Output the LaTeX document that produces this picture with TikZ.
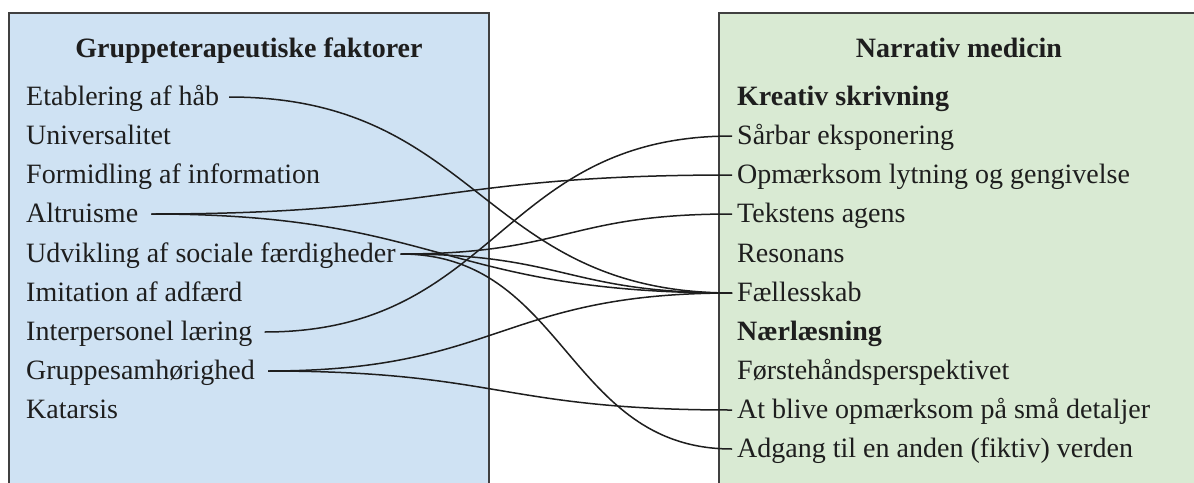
\documentclass[tikz,border=0pt]{standalone}
\usepackage{fontspec}
\setmainfont{Liberation Serif}
\usetikzlibrary{calc}
\definecolor{leftfill}{HTML}{CFE2F3}
\definecolor{rightfill}{HTML}{D9EAD3}
\definecolor{ink}{HTML}{1E1E1E}
\newcommand\linkpair[2]{%
  \draw[conn] let \p1=(#1.east), \p2=(#2.west) in
    (\p1) .. controls ({(\x1+\x2)/2},\y1) and ({(\x1+\x2)/2},\y2) .. (\p2);}
\begin{document}
\begin{tikzpicture}[x=1pt,y=-1pt,
  every node/.style={font=\fontsize{28}{34}\selectfont, text=ink},
  panel/.style={draw=ink!85, line width=1.1pt},
  heading/.style={font=\fontsize{28}{34}\selectfont\bfseries, anchor=base, inner sep=0pt},
  litem/.style={anchor=base west, inner ysep=0pt, inner xsep=0pt, text height=19pt, text depth=3pt},
  ritem/.style={anchor=base west, inner ysep=0pt, inner xsep=5pt, text height=19pt, text depth=3pt},
  subhead/.style={ritem, font=\fontsize{28}{34}\selectfont\bfseries},
  conn/.style={draw=ink, line width=1.5pt}]
\clip (0,0) rectangle (1194,482);
\fill[white] (0,0) rectangle (1194,482);
% panels
\filldraw[panel, fill=leftfill] (9,13) rectangle (489,520);
\filldraw[panel, fill=rightfill] (719,13) rectangle (1199,520);
% headings
\node[heading] (lt) at (249,57) {Gruppeterapeutiske faktorer};
\node[heading] (rt) at (959,57) {Narrativ medicin};
% left items
\node[litem] (l1) at (26,105) {Etablering af håb\kern10pt};
\node[litem] (l2) at (26,144) {Universalitet};
\node[litem] (l3) at (26,183) {Formidling af information};
\node[litem] (l4) at (26,222) {Altruisme\kern13pt};
\node[litem] (l5) at (26,262) {Udvikling af sociale færdigheder\kern5pt};
\node[litem] (l6) at (26,301) {Imitation af adfærd};
\node[litem] (l7) at (26,340) {Interpersonel læring\kern12pt};
\node[litem] (l8) at (26,379) {Gruppesamhørighed\kern13pt};
\node[litem] (l9) at (26,418) {Katarsis};
% right items
\node[subhead] (r0) at (732,105) {Kreativ skrivning};
\node[ritem] (r1) at (732,144) {Sårbar eksponering};
\node[ritem] (r2) at (732,183) {Opmærksom lytning og gengivelse};
\node[ritem] (r3) at (732,222) {Tekstens agens};
\node[ritem] (r4) at (732,262) {Resonans};
\node[ritem] (r5) at (732,301) {Fællesskab};
\node[subhead] (r6) at (732,340) {Nærlæsning};
\node[ritem] (r7) at (732,379) {Førstehåndsperspektivet};
\node[ritem] (r8) at (732,418) {At blive opmærksom på små detaljer};
\node[ritem] (r9) at (732,457) {Adgang til en anden (fiktiv) verden};
% connectors
\linkpair{l1}{r5}
\linkpair{l4}{r2}
\linkpair{l4}{r5}
\linkpair{l5}{r3}
\linkpair{l5}{r5}
\linkpair{l5}{r9}
\linkpair{l7}{r1}
\linkpair{l8}{r5}
\linkpair{l8}{r8}
\end{tikzpicture}
\end{document}
